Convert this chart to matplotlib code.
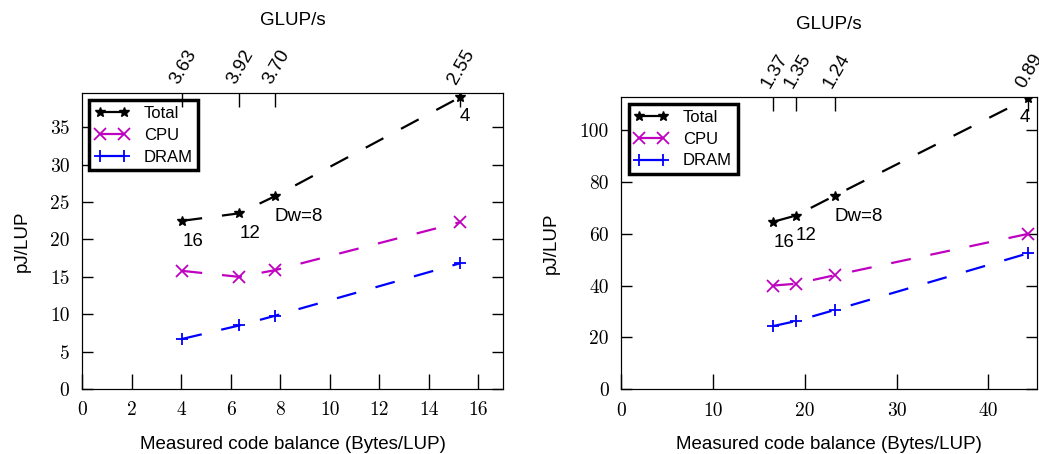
"""Energy per lattice update vs. measured code balance, two machines side by side."""

import matplotlib
matplotlib.use("Agg")
import matplotlib.pyplot as plt

# Left panel
left_balance = [4.05, 6.35, 7.8, 15.25]
left_total = [22.5, 23.5, 25.8, 39.0]
left_cpu = [15.8, 15.0, 15.9, 22.3]
left_dram = [6.7, 8.5, 9.8, 16.8]
left_glups = ["3.63", "3.92", "3.70", "2.55"]

# Right panel
right_balance = [16.6, 19.05, 23.3, 44.3]
right_total = [64.6, 67.0, 74.7, 112.2]
right_cpu = [40.0, 40.7, 44.0, 59.9]
right_dram = [24.4, 26.3, 30.6, 52.4]
right_glups = ["1.37", "1.35", "1.24", "0.89"]

dw_labels = ["16", "12", "Dw=8", "4"]

SANS = "Liberation Sans"
SERIF = "cmr10"
DASH = (9, 9)
FS = 13.5


def draw_panel(ax, bal, total, cpu, dram, glups, xlim, ylim, xticks, yticks, label_pos):
    ax.plot(bal, total, color="black", marker="*", markersize=7.5, lw=1.6,
            dashes=DASH, label="Total")
    ax.plot(bal, cpu, color="#c000c0", marker="x", markersize=8, mew=1.3, lw=1.6,
            dashes=DASH, label="CPU")
    ax.plot(bal, dram, color="#0000ff", marker="+", markersize=9, mew=1.3, lw=1.6,
            dashes=DASH, label="DRAM")

    for txt, (tx, ty), ha in zip(dw_labels, label_pos, ["center", "center", "left", "center"]):
        ax.text(tx, ty, txt, fontsize=FS, family=SANS, ha=ha, va="center")

    ax.set_xlim(*xlim)
    ax.set_ylim(*ylim)
    ax.set_xticks(xticks)
    ax.set_yticks(yticks)
    for lbl in ax.get_xticklabels() + ax.get_yticklabels():
        lbl.set_family(SERIF)
        lbl.set_fontsize(14)
    ax.tick_params(axis="x", direction="in", length=11, width=1, top=False, pad=9)
    ax.tick_params(axis="y", direction="in", length=8, width=1, right=True, pad=9)
    ax.set_xlabel("Measured code balance (Bytes/LUP)", family=SANS, fontsize=FS, labelpad=12)
    ax.set_ylabel("pJ/LUP", family=SANS, fontsize=FS, labelpad=14)

    leg = ax.legend(loc="upper left", numpoints=2, handlelength=2.0, fancybox=False,
                    framealpha=1, borderaxespad=0.45, prop={"family": SANS, "size": 12},
                    handletextpad=0.9, labelspacing=0.4, borderpad=0.35)
    leg.get_frame().set_edgecolor("black")
    leg.get_frame().set_linewidth(2.5)
    for line in leg.get_lines():
        line.set_linestyle("-")

    top = ax.twiny()
    top.set_xlim(*xlim)
    top.set_xticks(bal)
    top.set_xticklabels(glups, rotation=60, ha="left", va="bottom",
                        rotation_mode="anchor", family=SANS, fontsize=FS)
    top.tick_params(axis="x", direction="in", length=10, width=1, pad=4)
    top.set_xlabel("GLUP/s", family=SANS, fontsize=FS, labelpad=16)


fig = plt.figure(figsize=(10.39, 4.54), dpi=100)
ax_l = fig.add_axes([0.0789, 0.1432, 0.4052, 0.652])
ax_r = fig.add_axes([0.5977, 0.1425, 0.4004, 0.6445])

draw_panel(ax_l, left_balance, left_total, left_cpu, left_dram, left_glups,
           (0, 17), (0, 39.6), range(0, 17, 2), range(0, 36, 5),
           [(4.48, 19.7), (6.77, 20.8), (7.78, 23.1), (15.44, 36.4)])
draw_panel(ax_r, right_balance, right_total, right_cpu, right_dram, right_glups,
           (0, 45.3), (0, 112.8), range(0, 41, 10), range(0, 101, 20),
           [(17.8, 56.7), (20.2, 59.1), (23.3, 66.8), (44.0, 104.9)])

fig.savefig("out.png", dpi=100)
